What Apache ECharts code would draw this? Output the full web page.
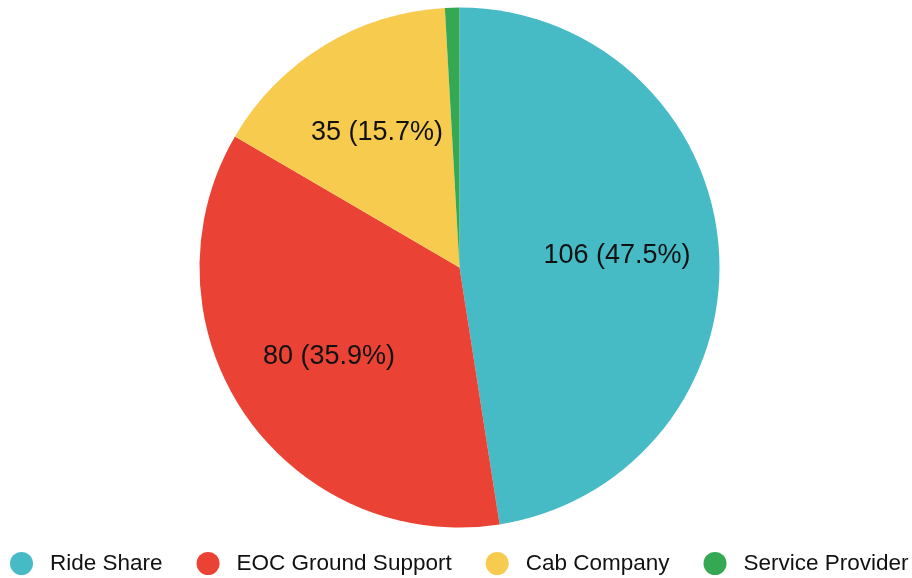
<!DOCTYPE html>
<html>
<head>
<meta charset="utf-8">
<script src="https://cdn.jsdelivr.net/npm/echarts@6/dist/echarts.min.js"></script>
<style>html,body{margin:0;padding:0;background:#fff;}#c{width:912px;height:578px;}</style>
</head>
<body>
<div id="c"></div>
<script>
var categories = ['Ride Share', 'EOC Ground Support', 'Cab Company', 'Service Provider'];
var values = [106, 80, 35, 2];
var colors = ['#46BBC5', '#EA4335', '#F7CB4D', '#34A853'];
var shownLabels = ['Ride Share', 'EOC Ground Support', 'Cab Company'];

var total = values.reduce(function (a, b) { return a + b; }, 0);
var data = categories.map(function (n, i) { return { name: n, value: values[i] }; });
var FONT = "'Liberation Sans', Arial, sans-serif";

var chart = echarts.init(document.getElementById('c'), null, { renderer: 'canvas' });
chart.setOption({
  animation: false,
  color: colors,
  legend: {
    data: categories,
    left: 10,
    top: 552,
    padding: 0,
    icon: 'circle',
    itemWidth: 23,
    itemHeight: 23,
    itemGap: 34,
    textStyle: { fontFamily: FONT, fontSize: 22.5, color: '#111', padding: [0, 0, 0, 12] }
  },
  series: [
    {
      type: 'pie',
      center: [459.5, 267.5],
      radius: [0, 260],
      startAngle: 90,
      clockwise: true,
      data: data,
      itemStyle: { borderWidth: 0 },
      label: { show: false },
      labelLine: { show: false },
      emphasis: { disabled: true }
    },
    {
      type: 'pie',
      center: [459.5, 267.5],
      radius: [50, 260],
      startAngle: 90,
      clockwise: true,
      silent: true,
      data: data,
      itemStyle: { color: 'rgba(0,0,0,0)', borderWidth: 0 },
      label: {
        show: true,
        position: 'inside',
        fontFamily: FONT,
        fontSize: 27,
        color: '#111',
        formatter: function (p) {
          if (shownLabels.indexOf(p.name) < 0) return '';
          return p.value + ' (' + (p.value / total * 100).toFixed(1) + '%)';
        }
      },
      labelLine: { show: false },
      emphasis: { disabled: true }
    }
  ]
});
</script>
</body>
</html>
